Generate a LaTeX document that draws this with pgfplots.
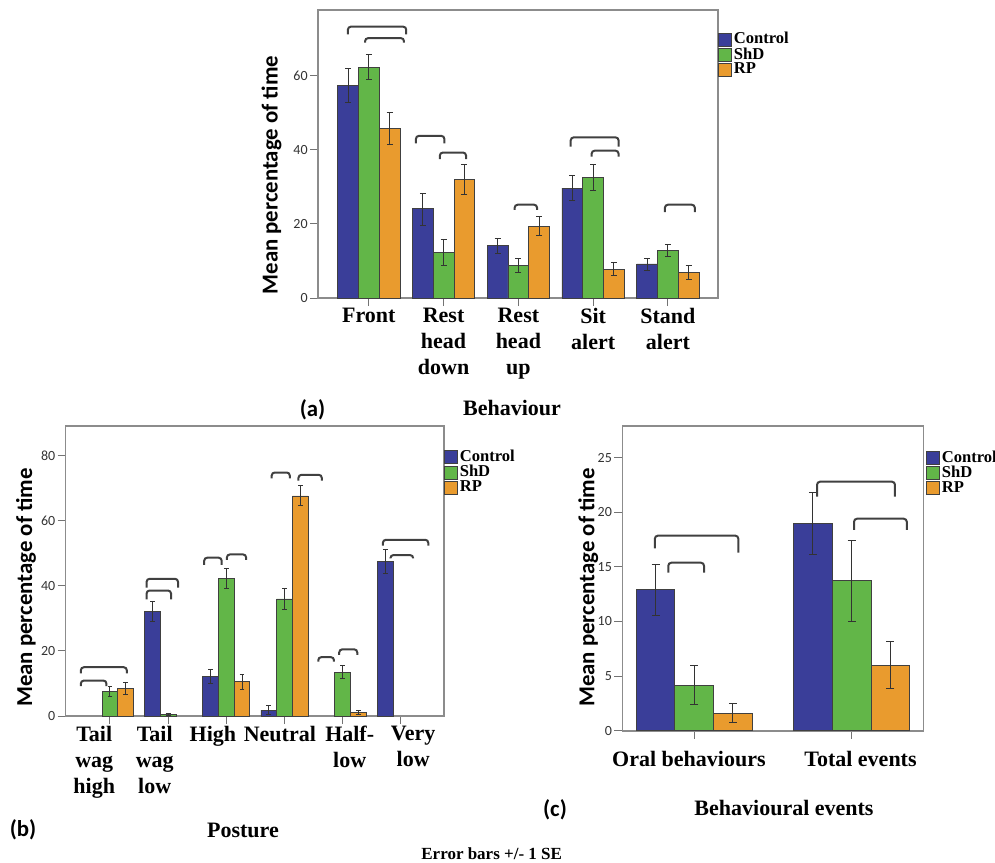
\documentclass[border=0pt]{standalone}
\usepackage{fontspec}
\setmainfont{Liberation Serif}
\newfontfamily\carlito{Carlito}
\usepackage{pgfplots}
\usepackage{pgfplotstable}
\pgfplotsset{compat=1.18}

\definecolor{cctrl}{RGB}{58,62,153}
\definecolor{cshd}{RGB}{98,182,72}
\definecolor{crp}{RGB}{233,155,46}

\newcommand\tickfont{\carlito\fontsize{7}{8}\selectfont}
\newcommand\ylabfont{\carlito\bfseries\fontsize{11.4}{13}\selectfont}
\newcommand\catfont{\bfseries\fontsize{11}{13}\selectfont}
\newcommand\legfont{\bfseries\fontsize{8.3}{8.3}\selectfont}
\newcommand\panfont{\carlito\bfseries\fontsize{11.4}{13}\selectfont}
\def\emsize{1.5pt}

% ---------- panel (a): Behaviour ----------
\pgfplotstableread{
x y ep em
0 57.5 4.4 4.6
1 24.1 4.0 4.5
2 14.1 2.1 2.1
3 29.7 3.4 3.3
4 9.2 1.6 1.7
}\actrl
\pgfplotstableread{
x y ep em
0 62.4 3.4 3.4
1 12.4 3.5 3.6
2 8.8 2.0 2.0
3 32.6 3.4 3.5
4 12.8 1.6 1.7
}\ashd
\pgfplotstableread{
x y ep em
0 45.7 4.3 4.3
1 32.0 4.1 4.0
2 19.4 2.5 2.6
3 7.8 1.8 1.8
4 6.9 2.0 1.9
}\arp
% ---------- panel (b): Posture ----------
\pgfplotstableread{
x y ep em
1 32.1 3.1 3.1
2 12.1 2.1 2.0
3 1.8 1.3 1.2
5 47.5 3.6 3.6
}\bctrl
\pgfplotstableread{
x y ep em
0 7.5 1.5 1.6
1 0.6 0.3 0.3
2 42.4 3.0 3.1
3 36.0 3.3 3.1
4 13.4 2.1 2.0
}\bshd
\pgfplotstableread{
x y ep em
0 8.5 1.8 2.0
2 10.6 2.2 2.3
3 67.7 3.1 3.1
4 1.1 0.6 0.6
}\brp
% ---------- panel (c): Behavioural events ----------
\pgfplotstableread{
x y ep em
0 12.94 2.32 2.35
1 18.99 2.81 2.84
}\cctrltab
\pgfplotstableread{
x y ep em
0 4.18 1.83 1.74
1 13.74 3.72 3.70
}\cshdtab
\pgfplotstableread{
x y ep em
0 1.59 0.91 0.86
1 6.01 2.20 2.13
}\crptab

\pgfplotsset{
 panel/.style={
  scale only axis, anchor=south west, ymin=0,
  axis line style={draw=black!45, line width=0.8pt},
  tick align=outside, tick pos=left,
  major tick length=4pt,
  tick style={draw=black!55, line width=0.5pt},
  yticklabel style={font=\tickfont, text=black!80, inner sep=1pt},
  /pgf/number format/assume math mode=true,
  xticklabels={},
  extra x tick style={major tick length=0pt,
    xticklabel style={font=\catfont, align=center, anchor=north, inner sep=0pt, yshift=-5pt}},
  every axis y label/.style={rotate=90, font=\ylabfont, anchor=center},
  legend style={draw=none, fill=none, anchor=north west, font=\legfont,
    inner sep=0pt, outer sep=0pt, row sep=0.4pt,
    nodes={inner xsep=1pt, inner ysep=0pt, anchor=west}},
  legend cell align=left,
 },
 grp/.style n args={2}{ybar, bar width=#1, bar shift=0pt, fill=#2, draw=black!75, line width=0.4pt,
  legend image code/.code={\draw[##1,/tikz/.cd,line width=0.4pt] (0pt,-3.25pt) rectangle (6.5pt,3.25pt);},
  /pgfplots/error bars/y dir=both, /pgfplots/error bars/y explicit,
  /pgfplots/error bars/error bar style={draw=black!80, line width=0.5pt},
  /pgfplots/error bars/error mark options={rotate=90, mark size=\emsize, draw=black!80, line width=0.5pt}},
 brk/.style={forget plot, draw=black!75, line width=1pt, rounded corners=1.5pt, mark=none},
}

\begin{document}
\begin{tikzpicture}
\path[use as bounding box] (0,0) rectangle (497.5pt,-431pt);

% ================= (a) =================
\def\emsize{1.5pt}
\begin{axis}[panel, at={(159pt,-149pt)}, width=200pt, height=144pt,
  xmin=-0.68, xmax=4.67, ymax=77.8, ytick={0,20,40,60}, xtick={0,1,2,3,4},
  extra x ticks={0,1,2,3,4},
  extra x tick labels={Front,{Rest\\head\\down},{Rest\\head\\up},{Sit\\alert},{Stand\\alert}},
  legend style={at={(axis description cs:1,0.922)}},
  ylabel={Mean percentage of time},
  ylabel style={at={(axis description cs:-0.116,0.427)}}]
\addplot[grp={0.278}{cctrl}] table[x expr=\thisrow{x}-0.278,y=y,y error plus=ep,y error minus=em]{\actrl};
\addplot[grp={0.278}{cshd}] table[x=x,y=y,y error plus=ep,y error minus=em]{\ashd};
\addplot[grp={0.278}{crp}] table[x expr=\thisrow{x}+0.278,y=y,y error plus=ep,y error minus=em]{\arp};
\legend{Control,ShD,RP}
\addplot[brk] coordinates {(-0.28,71.2) (-0.28,73.3) (0.50,73.3) (0.50,71.2)};
\addplot[brk] coordinates {(-0.05,69.0) (-0.05,70.2) (0.47,70.2) (0.47,69.0)};
\addplot[brk] coordinates {(0.63,41.8) (0.63,43.8) (1.01,43.8) (1.01,41.8)};
\addplot[brk] coordinates {(0.95,37.5) (0.95,39.3) (1.30,39.3) (1.30,37.5)};
\addplot[brk] coordinates {(1.95,23.8) (1.95,25.2) (2.25,25.2) (2.25,23.8)};
\addplot[brk] coordinates {(2.70,40.9) (2.70,43.4) (3.34,43.4) (3.34,40.9)};
\addplot[brk] coordinates {(2.98,38.2) (2.98,39.8) (3.34,39.8) (3.34,38.2)};
\addplot[brk] coordinates {(3.96,23.2) (3.96,25.2) (4.36,25.2) (4.36,23.2)};
\end{axis}

% ================= (b) =================
\def\emsize{1.2pt}
\begin{axis}[panel, at={(32.85pt,-358pt)}, width=189.15pt, height=145pt,
  xmin=-0.76, xmax=5.74, ymax=89.2, ytick={0,20,40,60,80}, xtick={0,1,2,3,4,5},
  extra x ticks={-0.27,0.77,1.77,2.92,4.12,5.21},
  extra x tick labels={{Tail\\wag\\high},{Tail\\wag\\low},High,Neutral,{Half-\\low},{Very\\low}},
  legend style={at={(axis description cs:1,0.917)}},
  ylabel={Mean percentage of time},
  ylabel style={at={(axis description cs:-0.105,0.443)}}]
\addplot[grp={0.27}{cctrl}] table[x expr=\thisrow{x}-0.27,y=y,y error plus=ep,y error minus=em]{\bctrl};
\addplot[grp={0.27}{cshd}] table[x=x,y=y,y error plus=ep,y error minus=em]{\bshd};
\addplot[grp={0.27}{crp}] table[x expr=\thisrow{x}+0.27,y=y,y error plus=ep,y error minus=em]{\brp};
\legend{Control,ShD,RP}
\addplot[brk] coordinates {(-0.50,13.1) (-0.50,15.0) (0.29,15.0) (0.29,13.1)};
\addplot[brk] coordinates {(-0.50,9.2) (-0.50,10.9) (-0.06,10.9) (-0.06,9.2)};
\addplot[brk] coordinates {(0.63,39.5) (0.63,42.2) (1.17,42.2) (1.17,39.5)};
\addplot[brk] coordinates {(0.63,35.9) (0.63,38.6) (1.05,38.6) (1.05,35.9)};
\addplot[brk] coordinates {(1.62,46.5) (1.62,48.7) (1.92,48.7) (1.92,46.5)};
\addplot[brk] coordinates {(2.01,48.0) (2.01,49.7) (2.34,49.7) (2.34,48.0)};
\addplot[brk] coordinates {(2.78,73.1) (2.78,74.9) (3.09,74.9) (3.09,73.1)};
\addplot[brk] coordinates {(3.24,72.4) (3.24,74.2) (3.64,74.2) (3.64,72.4)};
\addplot[brk] coordinates {(3.58,16.7) (3.58,18.1) (3.85,18.1) (3.85,16.7)};
\addplot[brk] coordinates {(3.94,18.8) (3.94,20.5) (4.25,20.5) (4.25,18.8)};
\addplot[brk] coordinates {(4.69,52.4) (4.69,54.2) (5.47,54.2) (5.47,52.4)};
\addplot[brk] coordinates {(4.82,48.5) (4.82,49.5) (5.21,49.5) (5.21,48.5)};
\end{axis}

% ================= (c) =================
\def\emsize{2pt}
\begin{axis}[panel, at={(311.15pt,-365.35pt)}, width=150.5pt, height=152.35pt,
  xmin=-0.457, xmax=1.455, ymax=27.9, ytick={0,5,10,15,20,25}, xtick={0,1},
  extra x ticks={-0.034,1.056},
  extra x tick labels={Oral behaviours,Total events},
  extra x tick style={xticklabel style={yshift=-5pt}},
  legend style={at={(axis description cs:1.009,0.919)}},
  ylabel={Mean percentage of time},
  ylabel style={at={(axis description cs:-0.113,0.47)}}]
\addplot[grp={0.246}{cctrl}] table[x expr=\thisrow{x}-0.246,y=y,y error plus=ep,y error minus=em]{\cctrltab};
\addplot[grp={0.246}{cshd}] table[x=x,y=y,y error plus=ep,y error minus=em]{\cshdtab};
\addplot[grp={0.246}{crp}] table[x expr=\thisrow{x}+0.246,y=y,y error plus=ep,y error minus=em]{\crptab};
\legend{Control,ShD,RP}
\addplot[brk] coordinates {(-0.25,16.7) (-0.25,17.86) (0.28,17.86) (0.28,16.3)};
\addplot[brk] coordinates {(-0.165,14.47) (-0.165,15.38) (0.062,15.38) (0.062,14.47)};
\addplot[brk] coordinates {(0.78,21.43) (0.78,22.8) (1.275,22.8) (1.275,21.43)};
\addplot[brk] coordinates {(1.015,18.38) (1.015,19.41) (1.35,19.41) (1.35,18.38)};
\end{axis}

% ================= panel captions =================
\node[font=\panfont, anchor=base] at (156.25pt,-208pt) {(a)};
\node[font=\catfont, anchor=base] at (256pt,-207.5pt) {Behaviour};
\node[font=\panfont, anchor=base] at (11.5pt,-418pt) {(b)};
\node[font=\catfont, anchor=base] at (121.5pt,-418.5pt) {Posture};
\node[font=\panfont, anchor=base] at (277.5pt,-408pt) {(c)};
\node[font=\catfont, anchor=base] at (392pt,-407.5pt) {Behavioural events};
\node[font=\bfseries\fontsize{8.5}{9}\selectfont, anchor=base] at (245.85pt,-429.5pt) {Error bars +/- 1 SE};
\end{tikzpicture}
\end{document}
